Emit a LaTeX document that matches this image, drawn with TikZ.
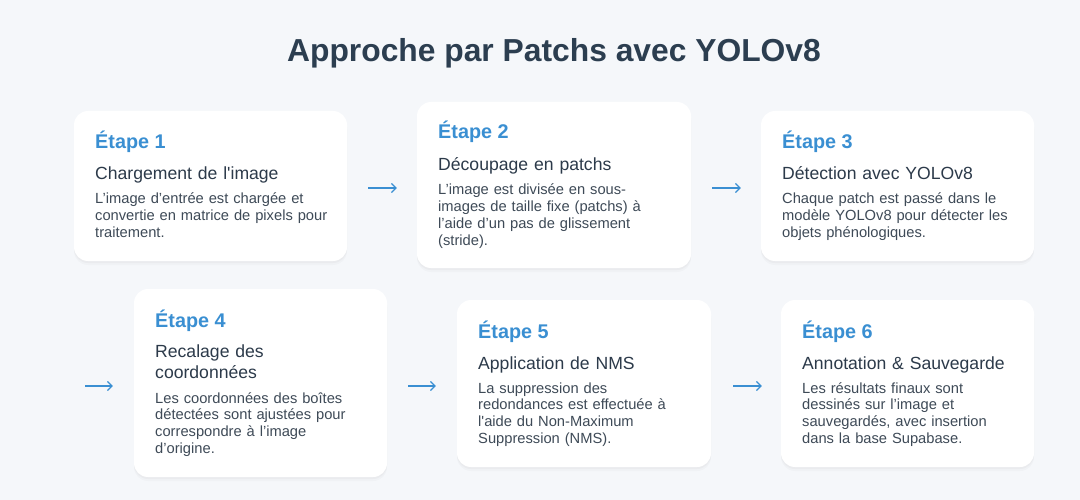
\documentclass[tikz,border=0pt]{standalone}
\usepackage{fontspec}
\setmainfont{Liberation Sans}[Ligatures=TeXOff]
\usepackage{xcolor}
\usetikzlibrary{arrows.meta,shadows,calc}

\definecolor{pagebg}{HTML}{F5F7FA}
\definecolor{titlecol}{HTML}{2C3E50}
\definecolor{stepblue}{HTML}{3A8FD2}
\definecolor{headcol}{HTML}{2C3A4A}
\definecolor{desccol}{HTML}{3E4A57}

\tikzset{
  card/.style={fill=white, rounded corners=14pt,
    drop shadow={shadow xshift=0pt, shadow yshift=-2pt, opacity=0.05},
    drop shadow={shadow xshift=0pt, shadow yshift=-4pt, opacity=0.04}},
  steplbl/.style={anchor=base west, inner sep=0pt, text=stepblue,
    font=\fontsize{19.8}{24}\selectfont\bfseries},
  stephead/.style={anchor=base west, inner sep=0pt, text=headcol, align=left,
    text width=250pt, font=\fontsize{17.6}{21}\selectfont},
  stepdesc/.style={anchor=base west, inner sep=0pt, text=desccol, align=left,
    text width=250pt, font=\fontsize{14.7}{16.7}\selectfont},
  flow/.style={draw=stepblue, line width=1.2pt, -{Straight Barb[length=4.5pt,width=9pt]}}
}

\begin{document}
\begin{tikzpicture}[x=1pt, y=-1pt]
  \fill[pagebg] (0,0) rectangle (1080,500);
  \useasboundingbox (0,0) rectangle (1080,500);

  \node[anchor=base, text=titlecol, font=\fontsize{31.8}{36}\selectfont\bfseries]
    (title) at (554,62) {Approche par Patchs avec YOLOv8};

  % first row
  \node[card, minimum width=273pt, minimum height=150pt] (c1) at (210.5,186) {};
  \node[steplbl] (c1s) at (95,149) {Étape 1};
  \node[stephead] (c1h) at (95,180) {Chargement de l'image};
  \node[stepdesc] (c1d) at (95,204) {L’image d’entrée est chargée et\\convertie en matrice de pixels pour\\traitement.};

  \node[card, minimum width=274pt, minimum height=166pt] (c2) at (554,185) {};
  \node[steplbl] (c2s) at (438,139) {Étape 2};
  \node[stephead] (c2h) at (438,171) {Découpage en patchs};
  \node[stepdesc] (c2d) at (438,195) {L’image est divisée en sous-\\images de taille fixe (patchs) à\\l’aide d’un pas de glissement\\(stride).};

  \node[card, minimum width=273pt, minimum height=150pt] (c3) at (897.5,186) {};
  \node[steplbl] (c3s) at (782,149) {Étape 3};
  \node[stephead] (c3h) at (782,180) {Détection avec YOLOv8};
  \node[stepdesc] (c3d) at (782,204) {Chaque patch est passé dans le\\modèle YOLOv8 pour détecter les\\objets phénologiques.};

  % second row
  \node[card, minimum width=253pt, minimum height=188pt] (c4) at (260.5,383) {};
  \node[steplbl] (c4s) at (155,327) {Étape 4};
  \node[stephead] (c4h) at (155,357) {Recalage des\\coordonnées};
  \node[stepdesc] (c4d) at (155,403) {Les coordonnées des boîtes\\détectées sont ajustées pour\\correspondre à l’image\\d’origine.};

  \node[card, minimum width=254pt, minimum height=167pt] (c5) at (584,383.5) {};
  \node[steplbl] (c5s) at (478,338) {Étape 5};
  \node[stephead] (c5h) at (478,369) {Application de NMS};
  \node[stepdesc] (c5d) at (478,393) {La suppression des\\redondances est effectuée à\\l'aide du Non-Maximum\\Suppression (NMS).};

  \node[card, minimum width=253pt, minimum height=167pt] (c6) at (907.5,383.5) {};
  \node[steplbl] (c6s) at (802,338) {Étape 6};
  \node[stephead] (c6h) at (802,369) {Annotation \& Sauvegarde};
  \node[stepdesc] (c6d) at (802,393) {Les résultats finaux sont\\dessinés sur l’image et\\sauvegardés, avec insertion\\dans la base Supabase.};

  % arrows
  \coordinate (c4in) at (85,386);
  \draw[flow, shorten <=21pt, shorten >=20pt] ([yshift=-2pt]c1.east) -- ([yshift=-2pt]c1.east -| c2.west);
  \draw[flow, shorten <=21pt, shorten >=20pt] ([yshift=-3pt]c2.east) -- ([yshift=-3pt]c2.east -| c3.west);
  \draw[flow, shorten >=21pt] (c4in) -- (c4in -| c4.west);
  \draw[flow, shorten <=21pt, shorten >=21pt] ([yshift=-3pt]c4.east) -- ([yshift=-3pt]c4.east -| c5.west);
  \draw[flow, shorten <=22pt, shorten >=19pt] ([yshift=-2.5pt]c5.east) -- ([yshift=-2.5pt]c5.east -| c6.west);
\end{tikzpicture}
\end{document}
